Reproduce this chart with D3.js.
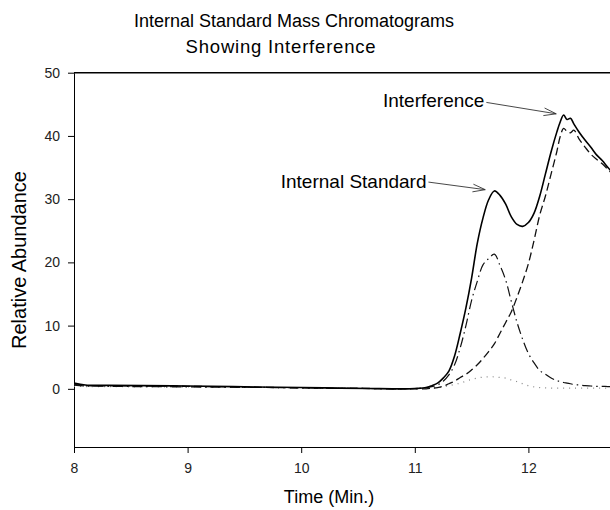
<!DOCTYPE html>
<html>
<head>
  <meta charset="utf-8">
  <title>Internal Standard Mass Chromatograms</title>
  <script src="https://d3js.org/d3.v7.min.js"></script>
  <style>
    body { margin: 0; background: white; }
    svg { font-family: "Liberation Sans", Arial, sans-serif; }
  </style>
</head>
<body>
  <div id="graphContainer"></div>
  <script>
    // retention time (min)
    var time = [8.0, 8.1, 8.3, 8.6, 9.0, 9.4, 9.8, 10.2, 10.6, 10.9,
      11.0, 11.1, 11.15, 11.2, 11.25, 11.3, 11.35, 11.4, 11.45, 11.5,
      11.55, 11.6, 11.65, 11.7, 11.75, 11.8, 11.85, 11.9, 11.95, 12.0,
      12.05, 12.1, 12.15, 12.2, 12.25, 12.28, 12.31, 12.34, 12.37, 12.4,
      12.45, 12.5, 12.55, 12.6, 12.65, 12.7, 12.75];
    // total ion trace (solid)
    var total = [0.9, 0.6, 0.55, 0.5, 0.45, 0.35, 0.25, 0.15, 0.05, 0.0,
      0.05, 0.2, 0.5, 0.9, 1.7, 2.8, 5.2, 8.8, 12.8, 17.5,
      23.0, 27.0, 29.9, 31.3, 30.6, 29.2, 27.2, 26.0, 25.7, 26.3,
      27.8, 30.5, 34.0, 37.5, 40.6, 42.2, 43.3, 42.6, 42.8, 41.9,
      40.5, 39.3, 38.2, 37.0, 36.1, 35.0, 34.0];
    // interference (dashed)
    var interference = [0.7, 0.5, 0.5, 0.45, 0.4, 0.3, 0.2, 0.1, 0.05, 0.0,
      0.0, 0.0, 0.1, 0.2, 0.4, 0.8, 1.2, 1.8, 2.3, 3.0,
      3.8, 4.8, 5.9, 7.1, 8.8, 10.5, 12.2, 14.5, 17.0, 19.8,
      23.5, 27.5, 30.5, 34.0, 37.5, 39.9, 41.2, 40.7, 40.5, 40.9,
      39.4, 38.2, 37.1, 36.3, 35.6, 34.7, 33.8];
    // internal standard (dash-dot)
    var internalStd = [0.6, 0.45, 0.4, 0.35, 0.3, 0.25, 0.2, 0.1, 0.05, 0.0,
      0.05, 0.2, 0.35, 0.6, 1.2, 2.2, 3.8, 6.5, 10.0, 14.0,
      17.0, 19.6, 20.6, 21.3, 19.5, 17.2, 13.8, 10.5, 7.8, 5.6,
      4.1, 2.9, 2.3, 1.7, 1.3, 1.15, 1.0, 0.9, 0.8, 0.7,
      0.6, 0.5, 0.45, 0.4, 0.4, 0.35, 0.35];
    // minor trace (dotted)
    var minor = [0.4, 0.35, 0.35, 0.3, 0.3, 0.25, 0.2, 0.1, 0.05, 0.0,
      0.0, 0.05, 0.1, 0.2, 0.3, 0.5, 0.7, 0.9, 1.2, 1.5,
      1.7, 1.85, 1.9, 1.9, 1.8, 1.7, 1.4, 1.15, 0.8, 0.5,
      0.3, 0.2, 0.15, 0.1, 0.1, 0.1, 0.1, 0.1, 0.1, 0.1,
      0.1, 0.1, 0.1, 0.1, 0.1, 0.1, 0.1];

    var xTicks = [8, 9, 10, 11, 12];
    var yTicks = [0, 10, 20, 30, 40, 50];

    var width = 610;
    var height = 510;

    var x = d3.scaleLinear().domain([8, 13]).range([74, 642]);
    var y = d3.scaleLinear().domain([-9.2, 50]).range([447, 72.7]);

    var svg = d3.select("#graphContainer")
      .append("svg")
        .attr("width", width)
        .attr("height", height);

    svg.append("defs").append("clipPath")
        .attr("id", "plotClip")
      .append("rect")
        .attr("x", x(8))
        .attr("y", y(50))
        .attr("width", x(13) - x(8))
        .attr("height", y(-9.2) - y(50));

    // title
    svg.append("text")
      .attr("x", 294).attr("y", 27)
      .attr("text-anchor", "middle")
      .style("font-size", "18px")
      .text("Internal Standard Mass Chromatograms");
    svg.append("text")
      .attr("x", 281).attr("y", 53)
      .attr("text-anchor", "middle")
      .style("font-size", "18.5px")
      .style("letter-spacing", "0.8px")
      .text("Showing Interference");

    // axes
    svg.append("g")
      .attr("transform", "translate(0," + y(-9.2) + ")")
      .call(d3.axisBottom(x).tickValues(xTicks).tickFormat(d3.format("d"))
        .tickSize(6).tickSizeOuter(0).tickPadding(10));
    svg.append("g")
      .attr("transform", "translate(" + x(8) + ",0)")
      .call(d3.axisLeft(y).tickValues(yTicks).tickFormat(d3.format("d"))
        .tickSize(6).tickSizeOuter(0).tickPadding(8));
    svg.selectAll(".tick text")
      .style("font-size", "14px")
      .style("font-family", "'Liberation Sans', Arial, sans-serif")
      .attr("fill", "#222");
    svg.selectAll(".domain, .tick line").attr("stroke", "#000");

    // top frame
    svg.append("line")
      .attr("x1", x(8)).attr("x2", x(13))
      .attr("y1", y(50)).attr("y2", y(50))
      .attr("stroke", "#000")
      .attr("stroke-width", 1.6);

    svg.append("text")
      .attr("x", 329).attr("y", 503)
      .attr("text-anchor", "middle")
      .style("font-size", "18px")
      .text("Time (Min.)");
    svg.append("text")
      .attr("transform", "translate(26," + 260 + ") rotate(-90)")
      .attr("text-anchor", "middle")
      .style("font-size", "20px")
      .text("Relative Abundance");

    // traces
    var plot = svg.append("g").attr("clip-path", "url(#plotClip)");
    var traces = [
      { values: minor, dash: "1,5", stroke: "#888", w: 1.2 },
      { values: internalStd, dash: "10,4,1.5,4", stroke: "#111", w: 1.2 },
      { values: interference, dash: "8,4", stroke: "#111", w: 1.3 },
      { values: total, dash: null, stroke: "#000", w: 1.6 }
    ];
    traces.forEach(function (t) {
      var line = d3.line()
        .curve(d3.curveCatmullRom.alpha(0.5))
        .x(function (d, i) { return x(time[i]); })
        .y(function (d) { return y(d); });
      plot.append("path")
        .attr("d", line(t.values))
        .attr("fill", "none")
        .attr("stroke", t.stroke)
        .attr("stroke-width", t.w)
        .attr("stroke-dasharray", t.dash);
    });

    // annotations with open arrowheads
    var notes = [
      { label: "Interference", tx: 10.72, ty: 44.6, fx: 11.63, fy: 45.3, px: 12.245, py: 43.5 },
      { label: "Internal Standard", tx: 9.82, ty: 31.8, fx: 11.12, fy: 32.7, px: 11.62, py: 31.5 }
    ];
    notes.forEach(function (n) {
      svg.append("text")
        .attr("x", x(n.tx)).attr("y", y(n.ty))
        .style("font-size", "19px")
        .text(n.label);
      var x1 = x(n.fx), y1 = y(n.fy), x2 = x(n.px), y2 = y(n.py);
      svg.append("line")
        .attr("x1", x1).attr("y1", y1).attr("x2", x2).attr("y2", y2)
        .attr("stroke", "#333").attr("stroke-width", 0.9);
      var ang = Math.atan2(y2 - y1, x2 - x1);
      [-0.3, 0.3].forEach(function (a) {
        svg.append("line")
          .attr("x1", x2).attr("y1", y2)
          .attr("x2", x2 - 13 * Math.cos(ang + a))
          .attr("y2", y2 - 13 * Math.sin(ang + a))
          .attr("stroke", "#333").attr("stroke-width", 0.9);
      });
    });
  </script>
</body>
</html>
